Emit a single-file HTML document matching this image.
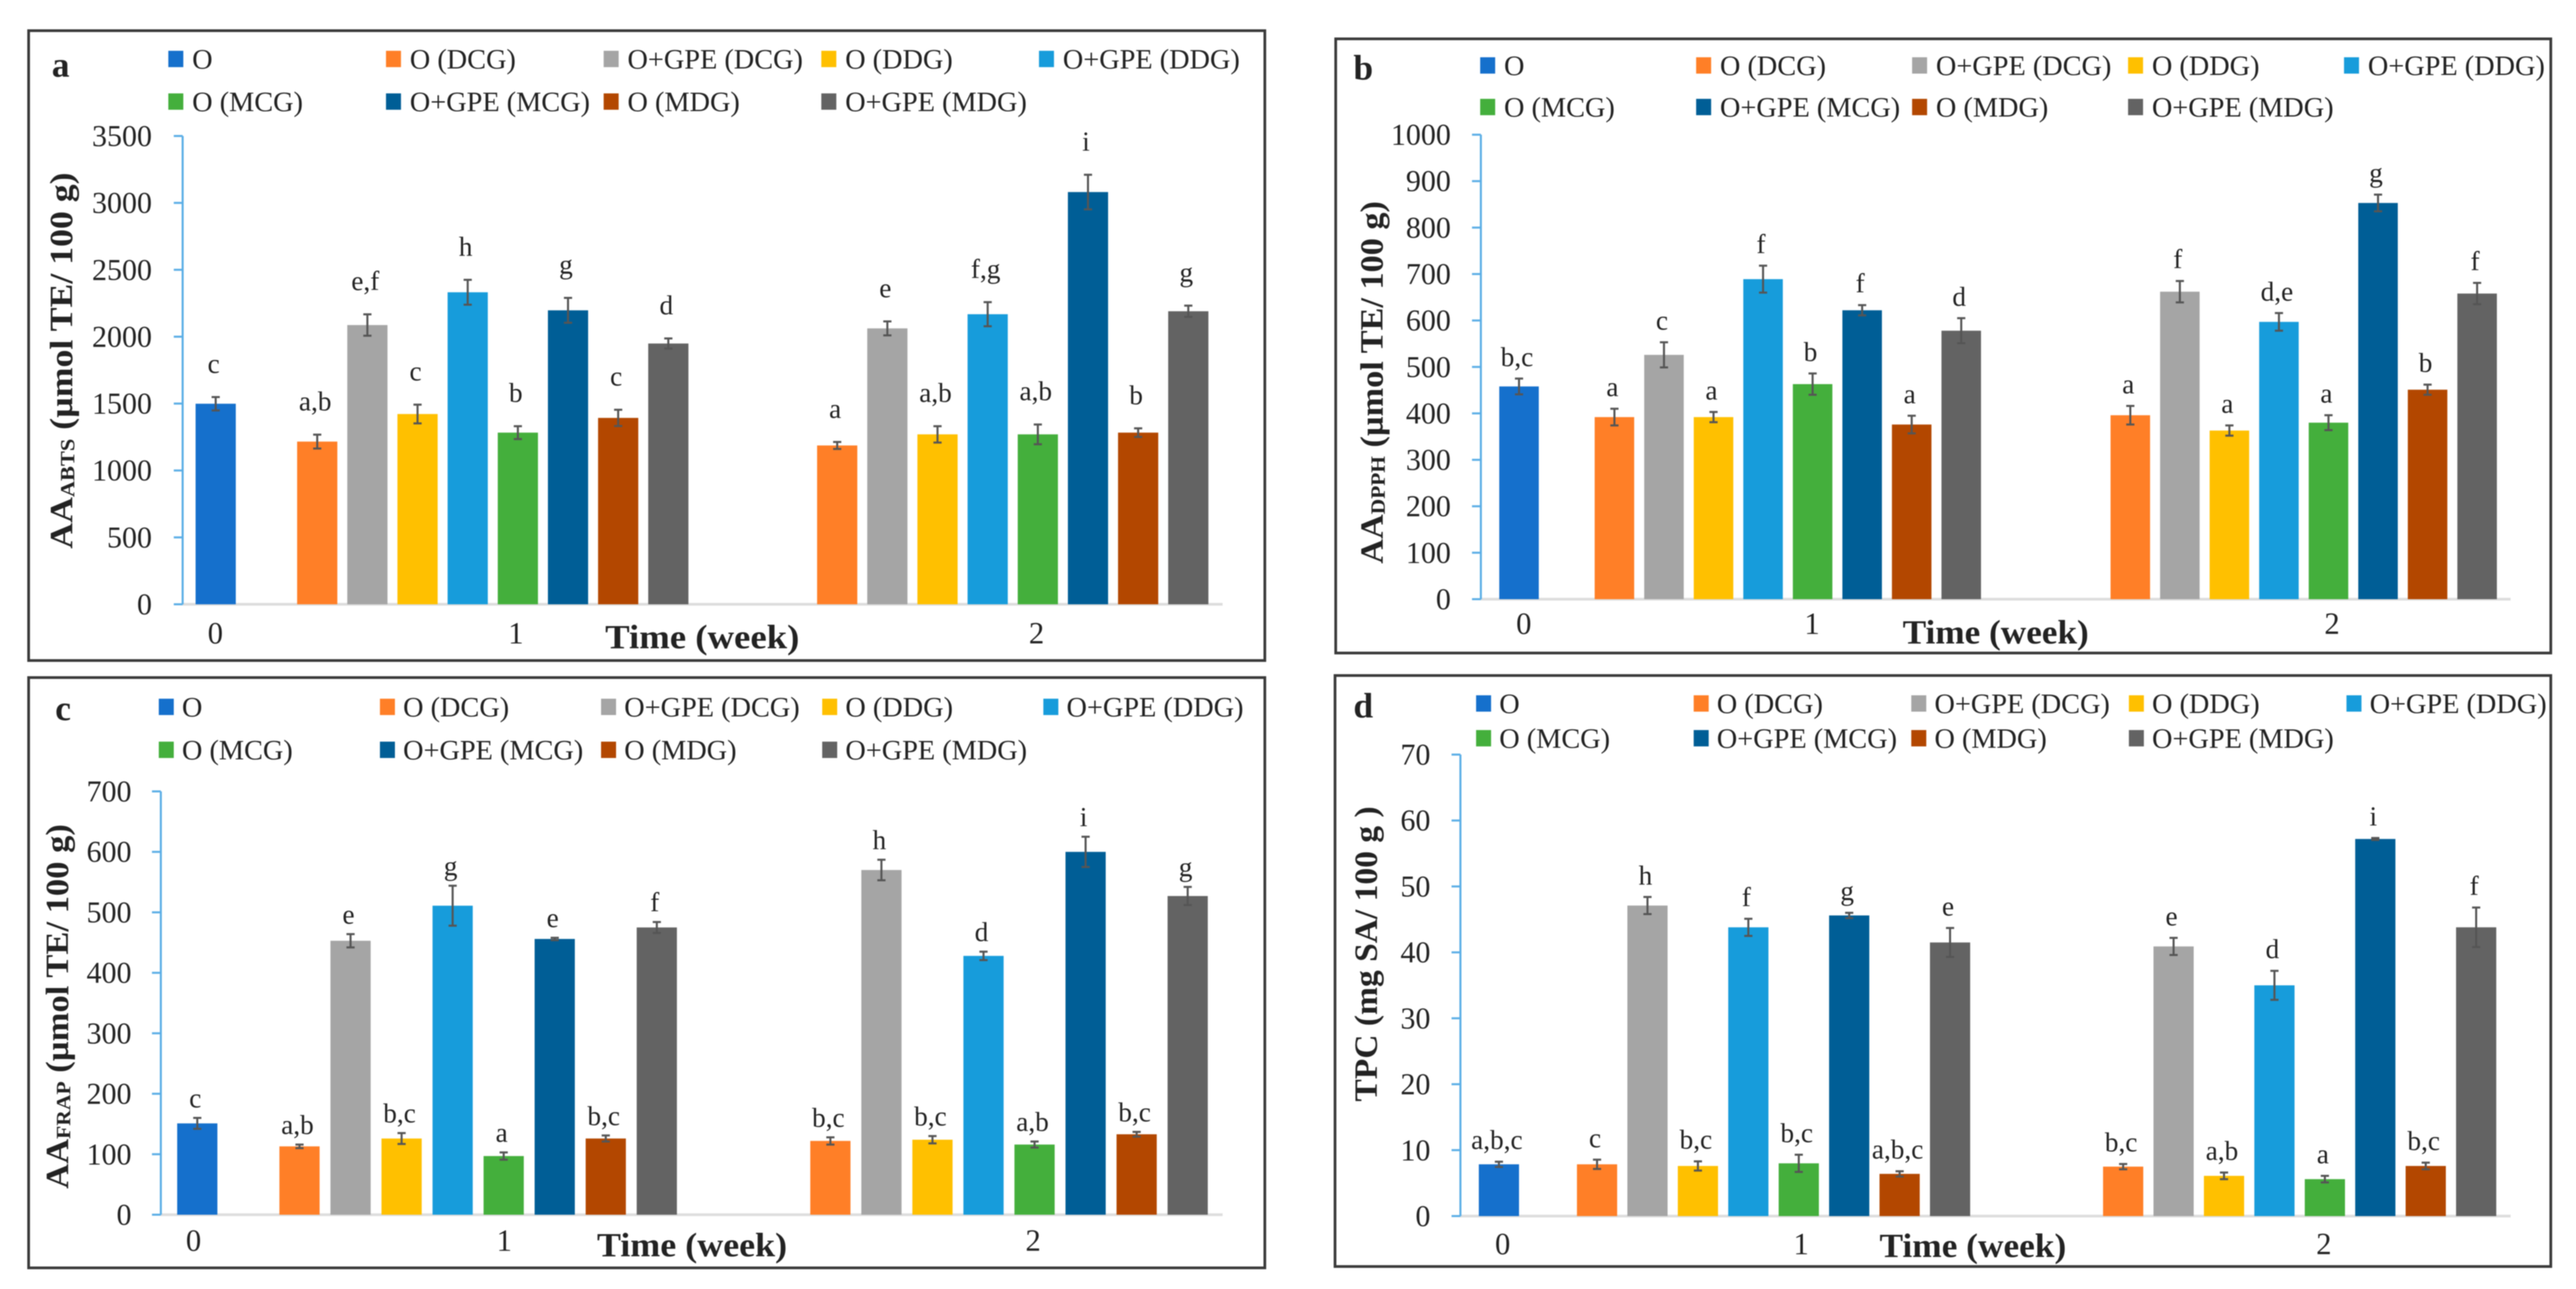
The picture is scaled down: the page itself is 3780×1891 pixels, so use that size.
<!DOCTYPE html>
<html lang="en">
<head>
<meta charset="utf-8">
<title>Antioxidant activity and phenolic content charts</title>
<style>
html,body{margin:0;padding:0;background:#fff;width:3780px;height:1891px;overflow:hidden}
svg{display:block;filter:blur(0.9px)}
text{font-family:"Liberation Serif",serif;fill:#222}
.s0{fill:#1570CC}.s1{fill:#FF7F27}.s2{fill:#A5A5A5}.s3{fill:#FFC000}.s4{fill:#179CDB}
.s5{fill:#44AF3C}.s6{fill:#005E96}.s7{fill:#B34700}.s8{fill:#636363}
.box{fill:#fff;stroke:#3a3a3a;stroke-width:4}
.yaxis{stroke:#5BAEE6;stroke-width:3;fill:none}
.xaxis{stroke:#DDDDDD;stroke-width:4;fill:none}
.err{stroke:#555;stroke-width:3;fill:none}
.tick{font-size:44px;text-anchor:end;dominant-baseline:central}
.leg{font-size:41.5px;dominant-baseline:central}
.letter{font-size:40px;text-anchor:middle;dominant-baseline:central}
.xlab{font-size:45px;text-anchor:middle;dominant-baseline:central}
.xtitle{font-size:50px;font-weight:bold;dominant-baseline:central}
.ytitle{font-size:48px;font-weight:bold;dominant-baseline:central}
.plabel{font-size:52px;font-weight:bold;dominant-baseline:central}
</style>
</head>
<body>
<svg id="figure" xmlns="http://www.w3.org/2000/svg" width="3780" height="1891" viewBox="0 0 3780 1891"></svg>
<script>
const seriesNames = ["O","O (DCG)","O+GPE (DCG)","O (DDG)","O+GPE (DDG)","O (MCG)","O+GPE (MCG)","O (MDG)","O+GPE (MDG)"];
const weekLabels = ["0","1","2"];

const aTicks = [0,500,1000,1500,2000,2500,3000,3500];
const aWeek0 = [1499];
const aWeek1 = [1216,2087,1422,2332,1283,2197,1393,1949];
const aWeek2 = [1187,2062,1270,2168,1270,3081,1283,2190];
const aErr0 = [50];
const aErr1 = [52,80,70,93,48,93,61,38];
const aErr2 = [26,52,61,90,74,129,32,42];
const aLetters0 = ["c"];
const aLetters1 = ["a,b","e,f","c","h","b","g","c","d"];
const aLetters2 = ["a","e","a,b","f,g","a,b","i","b","g"];

const bTicks = [0,100,200,300,400,500,600,700,800,900,1000];
const bWeek0 = [458];
const bWeek1 = [392,526,392,689,463,622,376,578];
const bWeek2 = [396,662,363,597,380,853,451,658];
const bErr0 = [17];
const bErr1 = [18,27,11,29,23,11,19,27];
const bErr2 = [20,23,11,19,16,18,11,23];
const bLetters0 = ["b,c"];
const bLetters1 = ["a","c","a","f","b","f","a","d"];
const bLetters2 = ["a","f","a","d,e","a","g","b","f"];

const cTicks = [0,100,200,300,400,500,600,700];
const cWeek0 = [151];
const cWeek1 = [113,453,126,511,97,456,126,475];
const cWeek2 = [122,570,124,428,116,600,133,527];
const cErr0 = [9];
const cErr1 = [3,11,9,33,6,2,5,9];
const cErr2 = [6,17,6,7,5,25,4,15];
const cLetters0 = ["c"];
const cLetters1 = ["a,b","e","b,c","g","a","e","b,c","f"];
const cLetters2 = ["b,c","h","b,c","d","a,b","i","b,c","g"];

const dTicks = [0,10,20,30,40,50,60,70];
const dWeek0 = [7.85];
const dWeek1 = [7.85,47.1,7.6,43.8,8.0,45.6,6.4,41.5];
const dWeek2 = [7.5,40.9,6.1,35.0,5.6,57.2,7.6,43.8];
const dErr0 = [0.4];
const dErr1 = [0.7,1.3,0.7,1.3,1.3,0.4,0.4,2.2];
const dErr2 = [0.4,1.3,0.5,2.2,0.5,0.15,0.5,3.0];
const dLetters0 = ["a,b,c"];
const dLetters1 = ["c","h","b,c","f","b,c","g","a,b,c","e"];
const dLetters2 = ["b,c","e","a,b","d","a","i","b,c","f"];

const svg = document.getElementById('figure');
const NS = 'http://www.w3.org/2000/svg';

function shape(parent, tag, cls) {
  const el = document.createElementNS(NS, tag);
  if (cls) el.setAttribute('class', cls);
  parent.appendChild(el);
  return el;
}
function place(el, props) {
  for (const k in props) el.setAttribute(k, props[k]);
  return el;
}

function drawPanel(p, ticks, week0, week1, week2, err0, err1, err2, let0, let1, let2) {
  const g = shape(svg, 'g', '');
  
  

  const box = shape(g, 'rect', 'box');
  place(box, {x:p.boxL, y:p.boxT, width:p.boxR-p.boxL, height:p.boxB-p.boxT});
  
  

  const letter = shape(g, 'text', 'plabel');
  place(letter, {x:p.letterX, y:p.letterY});
  letter.textContent = p.id;
  
  

  seriesNames.forEach(function (name, i) {
    const col = i < 5 ? i : i - 5;
    const row = i < 5 ? 0 : 1;
    const lx = p.legX + col * p.legStep;
    const ly = row === 0 ? p.legY0 : p.legY1;
    const sw = shape(g, 'rect', 's' + i);
    place(sw, {x:lx, y:ly-12, width:22, height:24});
    
    
    const t = shape(g, 'text', 'leg');
    place(t, {x:lx+p.legGap, y:ly});
    t.textContent = name;
    
    
  });

  const maxV = ticks[ticks.length-1];
  const yScale = function (v) { return p.y0 - (v / maxV) * (p.y0 - p.yTop); };

  const xax = shape(g, 'line', 'xaxis');
  place(xax, {x1:p.axisX, x2:p.axisEnd, y1:p.y0, y2:p.y0});
  
  

  const yax = shape(g, 'line', 'yaxis');
  place(yax, {x1:p.axisX, x2:p.axisX, y1:yScale(maxV), y2:yScale(0)});
  
  

  ticks.forEach(function (v) {
    const tk = shape(g, 'line', 'yaxis');
    place(tk, {x1:p.axisX-13, x2:p.axisX, y1:yScale(v), y2:yScale(v)});
    
    
    const tl = shape(g, 'text', 'tick');
    place(tl, {x:p.tickX, y:yScale(v)});
    tl.textContent = String(v);
    
    
  });

  function bars(vals, errs, lets, startX, firstSeries) {
    vals.forEach(function (v, i) {
      const left = startX + i * p.step;
      const cx = left + p.barW / 2;
      const bar = shape(g, 'rect', 's' + (firstSeries + i));
      place(bar, {x:left, y:yScale(v), width:p.barW, height:yScale(0)-yScale(v)});
      
      

      const eTop = yScale(v + errs[i]);
      const eBot = yScale(v - errs[i]);
      const eb = shape(g, 'path', 'err');
      eb.setAttribute('d', 'M' + (cx-6) + ' ' + eTop + 'H' + (cx+6) + 'M' + cx + ' ' + eTop + 'V' + eBot + 'M' + (cx-6) + ' ' + eBot + 'H' + (cx+6));
      
      

      const sig = shape(g, 'text', 'letter');
      place(sig, {x:cx-3, y:eTop-p.letterGap});
      sig.textContent = lets[i];
      
      
    });
  }
  bars(week0, err0, let0, p.start0, 0);
  bars(week1, err1, let1, p.start1, 1);
  bars(week2, err2, let2, p.start2, 1);

  [p.xLab0, p.xLab1, p.xLab2].forEach(function (x, i) {
    const xl = shape(g, 'text', 'xlab');
    place(xl, {x:x, y:p.xLabY});
    xl.textContent = weekLabels[i];
    
    
  });

  const xt = shape(g, 'text', 'xtitle');
  place(xt, {x:p.xtL, y:p.xtY, textLength:p.xtW, lengthAdjust:'spacingAndGlyphs'});
  xt.textContent = 'Time (week)';
  
  

  const yt = shape(g, 'text', 'ytitle');
  place(yt, {transform:'translate(' + p.ytX + ' ' + p.ytB + ') rotate(-90)', textLength:p.ytW, lengthAdjust:'spacingAndGlyphs'});
  
  
  const parts = p.yTitle;
  if (parts[1]) {
    const m = shape(yt, 'tspan', '');
    m.textContent = parts[0];
    const sub = shape(yt, 'tspan', '');
    place(sub, {'font-size':'30px', dy:'9'});
    sub.textContent = parts[1];
    const r = shape(yt, 'tspan', '');
    place(r, {dy:'-9'});
    r.textContent = parts[2];
  } else {
    yt.textContent = parts[0];
  }
}

drawPanel({id:'a', boxL:42, boxR:1856, boxT:45, boxB:969, letterX:76, letterY:96,
  legX:247, legStep:319.4, legY0:86.5, legY1:149, legGap:35,
  axisX:268, axisEnd:1794, yTop:199.5, y0:886.5, tickX:223,
  start0:287, start1:436, start2:1199, step:73.6, barW:59, letterGap:49,
  xLab0:316, xLab1:757, xLab2:1521, xLabY:929, xtL:888, xtW:285, xtY:934,
  ytX:90, ytB:805, ytW:552, yTitle:['AA','ABTS',' (µmol TE/ 100 g)']},
  aTicks, aWeek0, aWeek1, aWeek2, aErr0, aErr1, aErr2, aLetters0, aLetters1, aLetters2);

drawPanel({id:'b', boxL:1960, boxR:3743, boxT:57, boxB:958, letterX:1986, letterY:100,
  legX:2172, legStep:316.9, legY0:96, legY1:157, legGap:35,
  axisX:2173, axisEnd:3684, yTop:197.6, y0:879, tickX:2129,
  start0:2200, start1:2340, start2:3097, step:72.7, barW:58, letterGap:32,
  xLab0:2236, xLab1:2659, xLab2:3422, xLabY:915, xtL:2792, xtW:273, xtY:927,
  ytX:2013, ytB:827, ytW:532, yTitle:['AA','DPPH',' (µmol TE/ 100 g)']},
  bTicks, bWeek0, bWeek1, bWeek2, bErr0, bErr1, bErr2, bLetters0, bLetters1, bLetters2);

drawPanel({id:'c', boxL:42, boxR:1856, boxT:994, boxB:1860, letterX:81, letterY:1040,
  legX:233, legStep:324.5, legY0:1037, legY1:1100, legGap:34,
  axisX:236, axisEnd:1794, yTop:1161, y0:1782, tickX:193,
  start0:260, start1:410, start2:1189, step:74.9, barW:59, letterGap:29,
  xLab0:284, xLab1:740, xLab2:1516, xLabY:1820, xtL:876, xtW:279, xtY:1826,
  ytX:84, ytB:1744, ytW:535, yTitle:['AA','FRAP',' (µmol TE/ 100 g)']},
  cTicks, cWeek0, cWeek1, cWeek2, cErr0, cErr1, cErr2, cLetters0, cLetters1, cLetters2);

drawPanel({id:'d', boxL:1959, boxR:3743, boxT:991, boxB:1858, letterX:1986, letterY:1036,
  legX:2166, legStep:319.3, legY0:1032, legY1:1083, legGap:34,
  axisX:2143, axisEnd:3684, yTop:1107, y0:1784, tickX:2099,
  start0:2170, start1:2314, start2:3086, step:74, barW:59, letterGap:32,
  xLab0:2205, xLab1:2643, xLab2:3410, xLabY:1825, xtL:2758, xtW:274, xtY:1827,
  ytX:2005, ytB:1616, ytW:433, yTitle:['TPC (mg SA/ 100 g )']},
  dTicks, dWeek0, dWeek1, dWeek2, dErr0, dErr1, dErr2, dLetters0, dLetters1, dLetters2);
</script>
</body>
</html>
